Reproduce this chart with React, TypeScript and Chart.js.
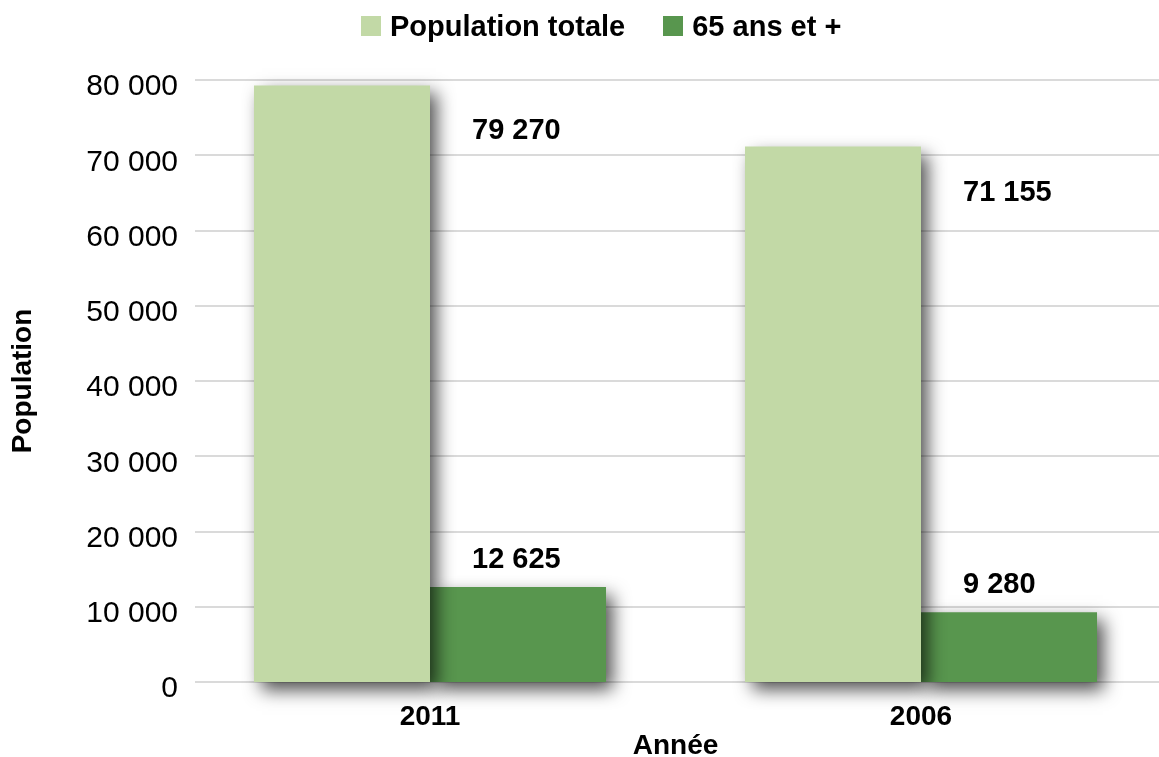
import React, { useEffect, useRef } from "react";
import { Chart, registerables } from "chart.js";

Chart.register(...registerables);

const categories = ["2011", "2006"];
const seriesNames = ["Population totale", "65 ans et +"];
const totalPopulation = [79270, 71155];
const seniors = [12625, 9280];
const yTickValues = [0, 10000, 20000, 30000, 40000, 50000, 60000, 70000, 80000];
const yAxisTitle = "Population";
const xAxisTitle = "Année";

const LIGHT = "#c2d9a6";
const DARK = "#58964e";
const FONT = "'Liberation Sans', Arial, Helvetica, sans-serif";

const fmt = (v: number) =>
  String(Math.round(v)).replace(/\B(?=(\d{3})+(?!\d))/g, " ");

const gridPlugin = {
  id: "customGrid",
  beforeDatasetsDraw(chart: any) {
    const { ctx, chartArea, scales } = chart;
    const y = scales.y;
    ctx.save();
    ctx.strokeStyle = "#dadada";
    ctx.lineWidth = 2;
    y.ticks.forEach((t: any) => {
      const py = Math.round(y.getPixelForValue(t.value));
      ctx.beginPath();
      ctx.moveTo(chartArea.left + 10.5, py);
      ctx.lineTo(1159, py);
      ctx.stroke();
    });
    ctx.restore();
  },
};

const shadowPlugin = {
  id: "barShadow",
  beforeDatasetDraw(chart: any) {
    const ctx = chart.ctx;
    ctx.save();
    ctx.shadowColor = "rgba(0,0,0,0.7)";
    ctx.shadowBlur = 17;
    ctx.shadowOffsetX = 7;
    ctx.shadowOffsetY = 8;
  },
  afterDatasetDraw(chart: any) {
    chart.ctx.restore();
  },
};

const labelPlugin = {
  id: "valueLabels",
  afterDatasetsDraw(chart: any) {
    const { ctx } = chart;
    const m0 = chart.getDatasetMeta(0);
    const m1 = chart.getDatasetMeta(1);
    ctx.save();
    ctx.font = `bold 29px ${FONT}`;
    ctx.fillStyle = "#000";
    ctx.textAlign = "left";
    ctx.textBaseline = "middle";
    categories.forEach((_, i) => {
      const b0: any = m0.data[i];
      const b1: any = m1.data[i];
      const left1 = b1.x - b1.width / 2;
      ctx.fillText(fmt(totalPopulation[i]), left1 + 42, b0.y + 46);
      ctx.fillText(fmt(seniors[i]), left1 + 42, b1.y - 27);
    });
    ctx.restore();
  },
};

export default function App() {
  const canvasRef = useRef<HTMLCanvasElement | null>(null);

  useEffect(() => {
    if (!canvasRef.current) return;
    Chart.defaults.font.family = FONT;
    const chart = new Chart(canvasRef.current, {
      type: "bar",
      data: {
        labels: categories,
        datasets: [
          {
            label: seriesNames[0],
            data: totalPopulation,
            backgroundColor: LIGHT,
            borderWidth: 0,
            clip: false as any,
            categoryPercentage: 0.717,
            barPercentage: 1,
          },
          {
            label: seriesNames[1],
            data: seniors,
            backgroundColor: DARK,
            borderWidth: 0,
            clip: false as any,
            categoryPercentage: 0.717,
            barPercentage: 1,
          },
        ],
      },
      options: {
        responsive: false,
        animation: false,
        layout: { padding: { top: 80, right: 3.5, left: 0, bottom: 0 } },
        plugins: {
          legend: { display: false },
          tooltip: { enabled: false },
        },
        scales: {
          x: {
            grid: { display: false, drawTicks: false },
            border: { display: false },
            ticks: {
              color: "#000",
              font: { size: 28, weight: "bold", family: FONT },
              padding: 18,
            },
            title: {
              display: true,
              text: xAxisTitle,
              color: "#000",
              font: { size: 28, weight: "bold", family: FONT, lineHeight: 0.8 },
              padding: 0,
            },
            afterFit: (s: any) => {
              s.height = 75;
            },
          },
          y: {
            min: 0,
            max: 80000,
            afterBuildTicks: (s: any) => {
              s.ticks = yTickValues.map((v) => ({ value: v }));
            },
            grid: { display: false, drawTicks: false },
            border: { display: false },
            ticks: {
              color: "#000",
              font: { size: 30, family: FONT },
              padding: 6.5,
              labelOffset: 7,
              callback: (v: any) => fmt(Number(v)),
            },
            title: {
              display: true,
              text: yAxisTitle,
              color: "#000",
              font: { size: 28, weight: "bold", family: FONT },
              padding: { top: 6, bottom: 0 },
            },
            afterFit: (s: any) => {
              s.width = 184.5;
            },
          },
        },
      },
      plugins: [gridPlugin, shadowPlugin, labelPlugin],
    } as any);
    return () => chart.destroy();
  }, []);

  const legendText: React.CSSProperties = {
    fontFamily: FONT,
    fontWeight: "bold",
    fontSize: 29,
    lineHeight: "30px",
    color: "#000",
    whiteSpace: "nowrap",
  };
  const box = (c: string, ml: number): React.CSSProperties => ({
    display: "inline-block",
    width: 20,
    height: 20,
    background: c,
    marginLeft: ml,
    marginRight: 9,
  });

  return (
    <div
      style={{
        position: "absolute",
        left: 0,
        top: 0,
        width: 1159,
        height: 757,
        overflow: "hidden",
        background: "#fff",
      }}
    >
      <canvas ref={canvasRef} width={1170} height={757} style={{ display: "block" }} />
      <div
        style={{
          position: "absolute",
          left: 361,
          top: 11,
          display: "flex",
          alignItems: "center",
        }}
      >
        <span style={box(LIGHT, 0)} />
        <span style={legendText}>{seriesNames[0]}</span>
        <span style={box(DARK, 38)} />
        <span style={legendText}>{seriesNames[1]}</span>
      </div>
    </div>
  );
}
